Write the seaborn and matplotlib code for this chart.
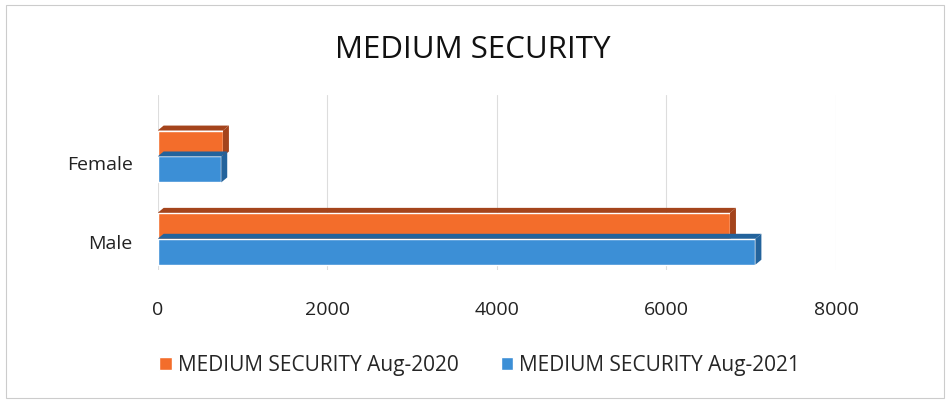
import pandas as pd
import matplotlib.pyplot as plt
import seaborn as sns
from matplotlib.patches import Polygon, Rectangle

# values
categories = ['Female', 'Male']
aug_2020 = [770, 6750]
aug_2021 = [750, 7050]
series_names = ['MEDIUM SECURITY Aug-2020', 'MEDIUM SECURITY Aug-2021']
colors = ['#F36D2B', '#3C8FD6']
side_colors = ['#A4441C', '#23639C']

df = pd.DataFrame({
    'Gender': categories * 2,
    'Count': aug_2020 + aug_2021,
    'Series': [series_names[0]] * 2 + [series_names[1]] * 2,
})

sns.set_style('white')
plt.rcParams['font.family'] = ['Open Sans', 'DejaVu Sans']

fig = plt.figure(figsize=(9.5, 4.03), dpi=100)
ax = fig.add_axes([0.166, 0.33, 0.714, 0.435])

sns.barplot(data=df, y='Gender', x='Count', hue='Series', orient='h',
            palette=colors, width=0.63, saturation=1, ax=ax, legend=False)

ax.set_xlim(0, 8000)
ax.set_ylim(1.38, -0.75)
ax.set_xticks([0, 2000, 4000, 6000, 8000])
ax.set_xticklabels(['0', '2000', '4000', '6000', '8000'])
ax.set_yticks([0.08, 1.04])
ax.set_yticklabels(categories)
ax.xaxis.grid(True, color='#dddddd', linewidth=0.8)
ax.set_axisbelow(True)
for s in ax.spines.values():
    s.set_visible(False)
ax.tick_params(axis='x', length=0, pad=22, labelsize=14, colors='#222222')
ax.tick_params(axis='y', length=0, pad=18, labelsize=14, colors='#222222')
ax.set_xlabel('')
ax.set_ylabel('')

# simple 3-D look: side and top faces from each bar's own extent
dx, dy = 70, -0.06
for i, container in enumerate(ax.containers):
    for bar in container:
        x0, y0 = bar.get_x(), bar.get_y()
        w, h = bar.get_width(), bar.get_height()
        top = [(x0, y0), (x0 + w, y0), (x0 + w + dx, y0 + dy), (x0 + dx, y0 + dy)]
        side = [(x0 + w, y0), (x0 + w, y0 + h), (x0 + w + dx, y0 + h + dy), (x0 + w + dx, y0 + dy)]
        ax.add_patch(Polygon(top, closed=True, facecolor=side_colors[i], edgecolor='none', zorder=3))
        ax.add_patch(Polygon(side, closed=True, facecolor=side_colors[i], edgecolor='none', zorder=3))

fig.text(0.498, 0.877, 'MEDIUM SECURITY', ha='center', va='center', fontsize=22.5, color='#111111')

handles = [Rectangle((0, 0), 1, 1, facecolor=c) for c in colors]
fig.legend(handles, series_names, loc='center', bbox_to_anchor=(0.505, 0.094), ncol=2,
           frameon=False, fontsize=15, handlelength=0.6, handleheight=0.6,
           handletextpad=0.3, columnspacing=2.0)

fig.add_artist(Rectangle((0.006, 0.012), 0.988, 0.976, transform=fig.transFigure,
                         fill=False, edgecolor='#cccccc', linewidth=0.8))

fig.savefig('out.png', dpi=100)
